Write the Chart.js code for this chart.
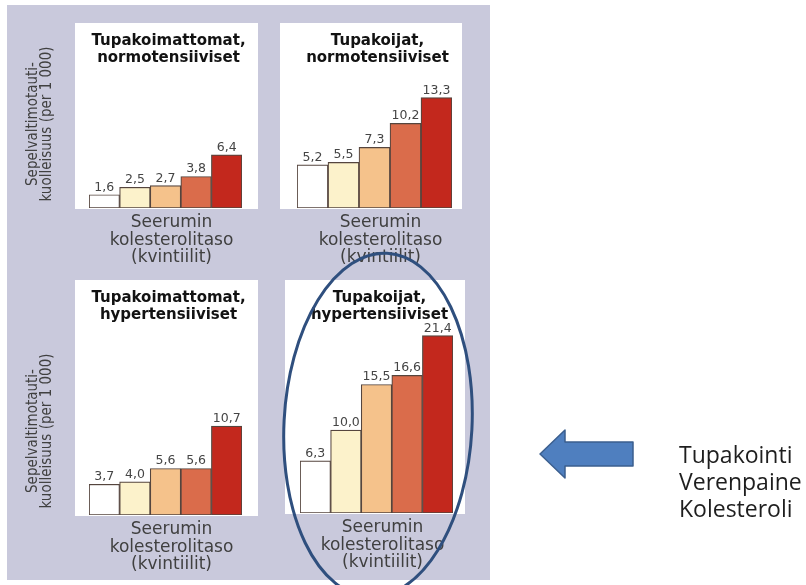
<!DOCTYPE html>
<html lang="fi">
<head>
<meta charset="utf-8">
<title>Sepelvaltimotautikuolleisuus</title>
<script src="https://cdn.jsdelivr.net/npm/chart.js@4.4.1/dist/chart.umd.min.js"></script>
<style>
  html, body { margin: 0; padding: 0; background: #ffffff; }
  #stage { position: relative; width: 806px; height: 585px; overflow: hidden; background: #ffffff; }
  #backdrop { position: absolute; left: 7px; top: 5px; width: 483px; height: 575px; background: #c9c9dc; }
  canvas.sub { position: absolute; }
  #marks { position: absolute; left: 0; top: 0; }
  #notes { position: absolute; left: 679px; top: 441px; font-family: "Open Sans", sans-serif;
           font-size: 23px; line-height: 27px; color: #1e1e1e; white-space: nowrap; }
</style>
</head>
<body>
<div id="stage">
  <div id="backdrop"></div>
  <canvas class="sub" id="c0"></canvas>
  <canvas class="sub" id="c1"></canvas>
  <canvas class="sub" id="c2"></canvas>
  <canvas class="sub" id="c3"></canvas>
  <svg id="marks" width="806" height="585" viewBox="0 0 806 585">
    <ellipse cx="378" cy="425" rx="94" ry="172" transform="rotate(3 378 425)"
             fill="none" stroke="#2f4f7e" stroke-width="3"/>
    <polygon points="540,454 565,430 565,442 633,442 633,466 565,466 565,478"
             fill="#4f7fbf" stroke="#3b5f8f" stroke-width="1.5" stroke-linejoin="round"/>
  </svg>
  <div id="notes"></div>
</div>

<script>
// Seerumin kolesterolin kvintiilit
const quintiles = ['I', 'II', 'III', 'IV', 'V'];

// Sepelvaltimotautikuolleisuus (per 1 000) kvintiileittäin
const nonSmokersNormotensive = [1.6, 2.5, 2.7, 3.8, 6.4];
const smokersNormotensive    = [5.2, 5.5, 7.3, 10.2, 13.3];
const nonSmokersHypertensive = [3.7, 4.0, 5.6, 5.6, 10.7];
const smokersHypertensive    = [6.3, 10.0, 15.5, 16.6, 21.4];

const panelTitles = [
  ['Tupakoimattomat,', 'normotensiiviset'],
  ['Tupakoijat,', 'normotensiiviset'],
  ['Tupakoimattomat,', 'hypertensiiviset'],
  ['Tupakoijat,', 'hypertensiiviset']
];
const xAxisTitle = ['Seerumin', 'kolesterolitaso', '(kvintiilit)'];
const yAxisTitle = ['Sepelvaltimotauti-', 'kuolleisuus (per 1 000)'];
const sideNotes = ['Tupakointi', 'Verenpaine', 'Kolesteroli'];

const quintileColors = ['#ffffff', '#fcf2cb', '#f5c28b', '#da6c4b', '#c3281d'];

// Placement of each small chart on the page
const panels = [
  { id: 'c0', values: nonSmokersNormotensive, title: panelTitles[0], yTitle: true,
    left: 7, top: 18, width: 261, height: 252,
    pad: { left: 82, right: 26, top: 5, bottom: 62 }, yMax: 22.3, frame: { l: 14, r: 16 } },
  { id: 'c1', values: smokersNormotensive, title: panelTitles[1], yTitle: false,
    left: 272, top: 18, width: 218, height: 252,
    pad: { left: 25, right: 38, top: 5, bottom: 62 }, yMax: 22.3, frame: { l: 17, r: 10 } },
  { id: 'c2', values: nonSmokersHypertensive, title: panelTitles[2], yTitle: true,
    left: 7, top: 272, width: 261, height: 308,
    pad: { left: 82, right: 26, top: 8, bottom: 65 }, yMax: 28.3, frame: { l: 14, r: 16 } },
  { id: 'c3', values: smokersHypertensive, title: panelTitles[3], yTitle: false,
    left: 272, top: 272, width: 218, height: 308,
    pad: { left: 28, right: 37, top: 8, bottom: 67 }, yMax: 28.1, frame: { l: 15, r: 12 } }
];

const fmt = v => v.toFixed(1).replace('.', ',');

// White frame, titles, axis captions and value labels around the bars
const panelDecor = {
  id: 'panelDecor',
  beforeDatasetsDraw(chart, args, opts) {
    const { ctx, chartArea: a } = chart;
    ctx.save();
    ctx.fillStyle = '#ffffff';
    ctx.fillRect(a.left - opts.frame.l, a.top, (a.right - a.left) + opts.frame.l + opts.frame.r, a.bottom - a.top + 1);

    const cx = (a.left + a.right) / 2;
    ctx.textAlign = 'center';
    ctx.textBaseline = 'middle';

    ctx.fillStyle = '#121212';
    ctx.font = 'bold 15px "DejaVu Sans", sans-serif';
    opts.title.forEach((line, i) => ctx.fillText(line, cx + 3, a.top + 18 + i * 17));

    ctx.fillStyle = '#404040';
    ctx.font = '17px "DejaVu Sans", sans-serif';
    xAxisTitle.forEach((line, i) => ctx.fillText(line, cx + 6, a.bottom + 15 + i * 17.5));

    if (opts.yTitle) {
      ctx.save();
      ctx.translate(a.left - 49, a.bottom - 84);
      ctx.rotate(-Math.PI / 2);
      ctx.font = '15px "DejaVu Sans Condensed", "DejaVu Sans", sans-serif';
      yAxisTitle.forEach((line, i) => ctx.fillText(line, 0, -7 + i * 14.5));
      ctx.restore();
    }
    ctx.restore();
  },
  afterDatasetsDraw(chart) {
    const { ctx } = chart;
    const meta = chart.getDatasetMeta(0);
    const values = chart.data.datasets[0].data;
    ctx.save();
    ctx.fillStyle = '#454545';
    ctx.font = '12.5px "DejaVu Sans", sans-serif';
    ctx.textAlign = 'center';
    ctx.textBaseline = 'alphabetic';
    meta.data.forEach((bar, i) => ctx.fillText(fmt(values[i]), bar.x, bar.y - 4));
    ctx.restore();
  }
};

panels.forEach(p => {
  const cv = document.getElementById(p.id);
  cv.width = p.width;
  cv.height = p.height;
  cv.style.left = p.left + 'px';
  cv.style.top = p.top + 'px';
  cv.style.width = p.width + 'px';
  cv.style.height = p.height + 'px';

  new Chart(cv, {
    type: 'bar',
    data: {
      labels: quintiles,
      datasets: [{
        data: p.values,
        backgroundColor: quintileColors,
        borderColor: '#55453e',
        borderWidth: 1.2,
        borderSkipped: false,
        categoryPercentage: 1,
        barPercentage: 1
      }]
    },
    options: {
      responsive: false,
      maintainAspectRatio: false,
      animation: false,
      events: [],
      devicePixelRatio: 1,
      layout: { padding: p.pad },
      plugins: {
        legend: { display: false },
        tooltip: { enabled: false },
        title: { display: false },
        panelDecor: { title: p.title, yTitle: p.yTitle, frame: p.frame }
      },
      scales: {
        x: { display: false },
        y: { display: false, min: 0, max: p.yMax }
      }
    },
    plugins: [panelDecor]
  });
});

document.getElementById('notes').innerHTML = sideNotes.join('<br>');
</script>
</body>
</html>
